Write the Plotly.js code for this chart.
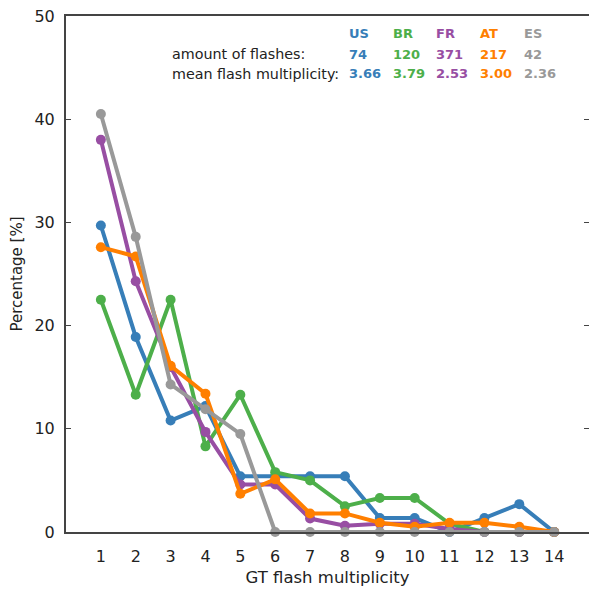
<!DOCTYPE html>
<html>
<head>
<meta charset="utf-8">
<script src="https://cdn.plot.ly/plotly-3.0.1.min.js"></script>
<style>html,body{margin:0;padding:0;background:#fff;}#chart{width:589px;height:591px;}</style>
</head>
<body>
<div id="chart"></div>
<script>
const multiplicity = [1,2,3,4,5,6,7,8,9,10,11,12,13,14];
const countries = ["US","BR","FR","AT","ES"];
const flashCounts = ["74","120","371","217","42"];
const meanMultiplicity = ["3.66","3.79","2.53","3.00","2.36"];
const colors = ["#377eb8","#4daf4a","#984ea3","#ff7f00","#999999"];

const US = [29.7,18.9,10.8,12.2,5.4,5.4,5.4,5.4,1.35,1.35,0,1.35,2.7,0];
const BR = [22.5,13.3,22.5,8.3,13.3,5.8,5.0,2.5,3.3,3.3,0.8,0,0,0];
const FR = [38.0,24.3,16.0,9.7,4.6,4.6,1.3,0.6,0.8,0.8,0.3,0,0,0];
const AT = [27.6,26.7,16.1,13.4,3.7,5.1,1.8,1.8,0.9,0.5,0.9,0.9,0.5,0];
const ES = [40.5,28.6,14.3,11.9,9.5,0,0,0,0,0,0,0,0,0];
const series = [US,BR,FR,AT,ES];

const traces = series.map((ys,i)=>({
  x: multiplicity, y: ys, type:'scatter', mode:'lines+markers',
  name: countries[i],
  line:{color:colors[i], width:4},
  marker:{color:colors[i], size:10},
  cliponaxis:false
}));

// layout geometry
const W=589,H=591,L=66,R=0,T=16,B=59;
const pw=W-L-R, ph=H-T-B;
const px = v => (v-L)/pw;
const py = v => 1-(v-T)/ph;

const colX=[347,391,434,478,522];
const font = "DejaVu Sans, sans-serif";
const ann=[];
ann.push({text:"amount of flashes:", x:px(170), y:py(54), xref:'paper', yref:'paper', xanchor:'left', yanchor:'middle', showarrow:false, font:{family:font,size:14.3,color:'#222'}});
ann.push({text:"mean flash multiplicity:", x:px(170), y:py(74), xref:'paper', yref:'paper', xanchor:'left', yanchor:'middle', showarrow:false, font:{family:font,size:14.3,color:'#222'}});
countries.forEach((c,i)=>{
  ann.push({text:"<b>"+c+"</b>", x:px(colX[i]), y:py(33), xref:'paper', yref:'paper', xanchor:'left', yanchor:'middle', showarrow:false, font:{family:font,size:13,color:colors[i]}});
  ann.push({text:"<b>"+flashCounts[i]+"</b>", x:px(colX[i]), y:py(54), xref:'paper', yref:'paper', xanchor:'left', yanchor:'middle', showarrow:false, font:{family:font,size:13,color:colors[i]}});
  ann.push({text:"<b>"+meanMultiplicity[i]+"</b>", x:px(colX[i]), y:py(74), xref:'paper', yref:'paper', xanchor:'left', yanchor:'middle', showarrow:false, font:{family:font,size:13,color:colors[i]}});
});

const layout = {
  width:W, height:H,
  margin:{l:L, r:R, t:T, b:B, pad:0},
  paper_bgcolor:'#fff', plot_bgcolor:'#fff',
  showlegend:false,
  font:{family:font, size:16, color:'#222'},
  xaxis:{
    range:[0,15], tickvals:multiplicity, ticktext:multiplicity.map(String),
    showgrid:false, zeroline:false, showline:true, mirror:true,
    linecolor:'#444', linewidth:2, ticks:'', ticklabelstandoff:9,
    tickfont:{family:font,size:16,color:'#222'},
    title:{text:"GT flash multiplicity", font:{family:font,size:16.5,color:'#222'}, standoff:6}
  },
  yaxis:{
    range:[0,50], tickvals:[0,10,20,30,40,50],
    showgrid:false, zeroline:false, showline:true, mirror:'ticks',
    linecolor:'#444', linewidth:2, ticks:'inside', ticklen:5, tickcolor:'#444', tickwidth:1,
    ticklabelstandoff:6,
    tickfont:{family:font,size:16,color:'#222'},
    title:{text:"Percentage [%]", font:{family:font,size:15,color:'#222'}, standoff:8}
  },
  annotations:ann
};
Plotly.newPlot('chart', traces, layout, {displayModeBar:false, staticPlot:true});
</script>
</body>
</html>
